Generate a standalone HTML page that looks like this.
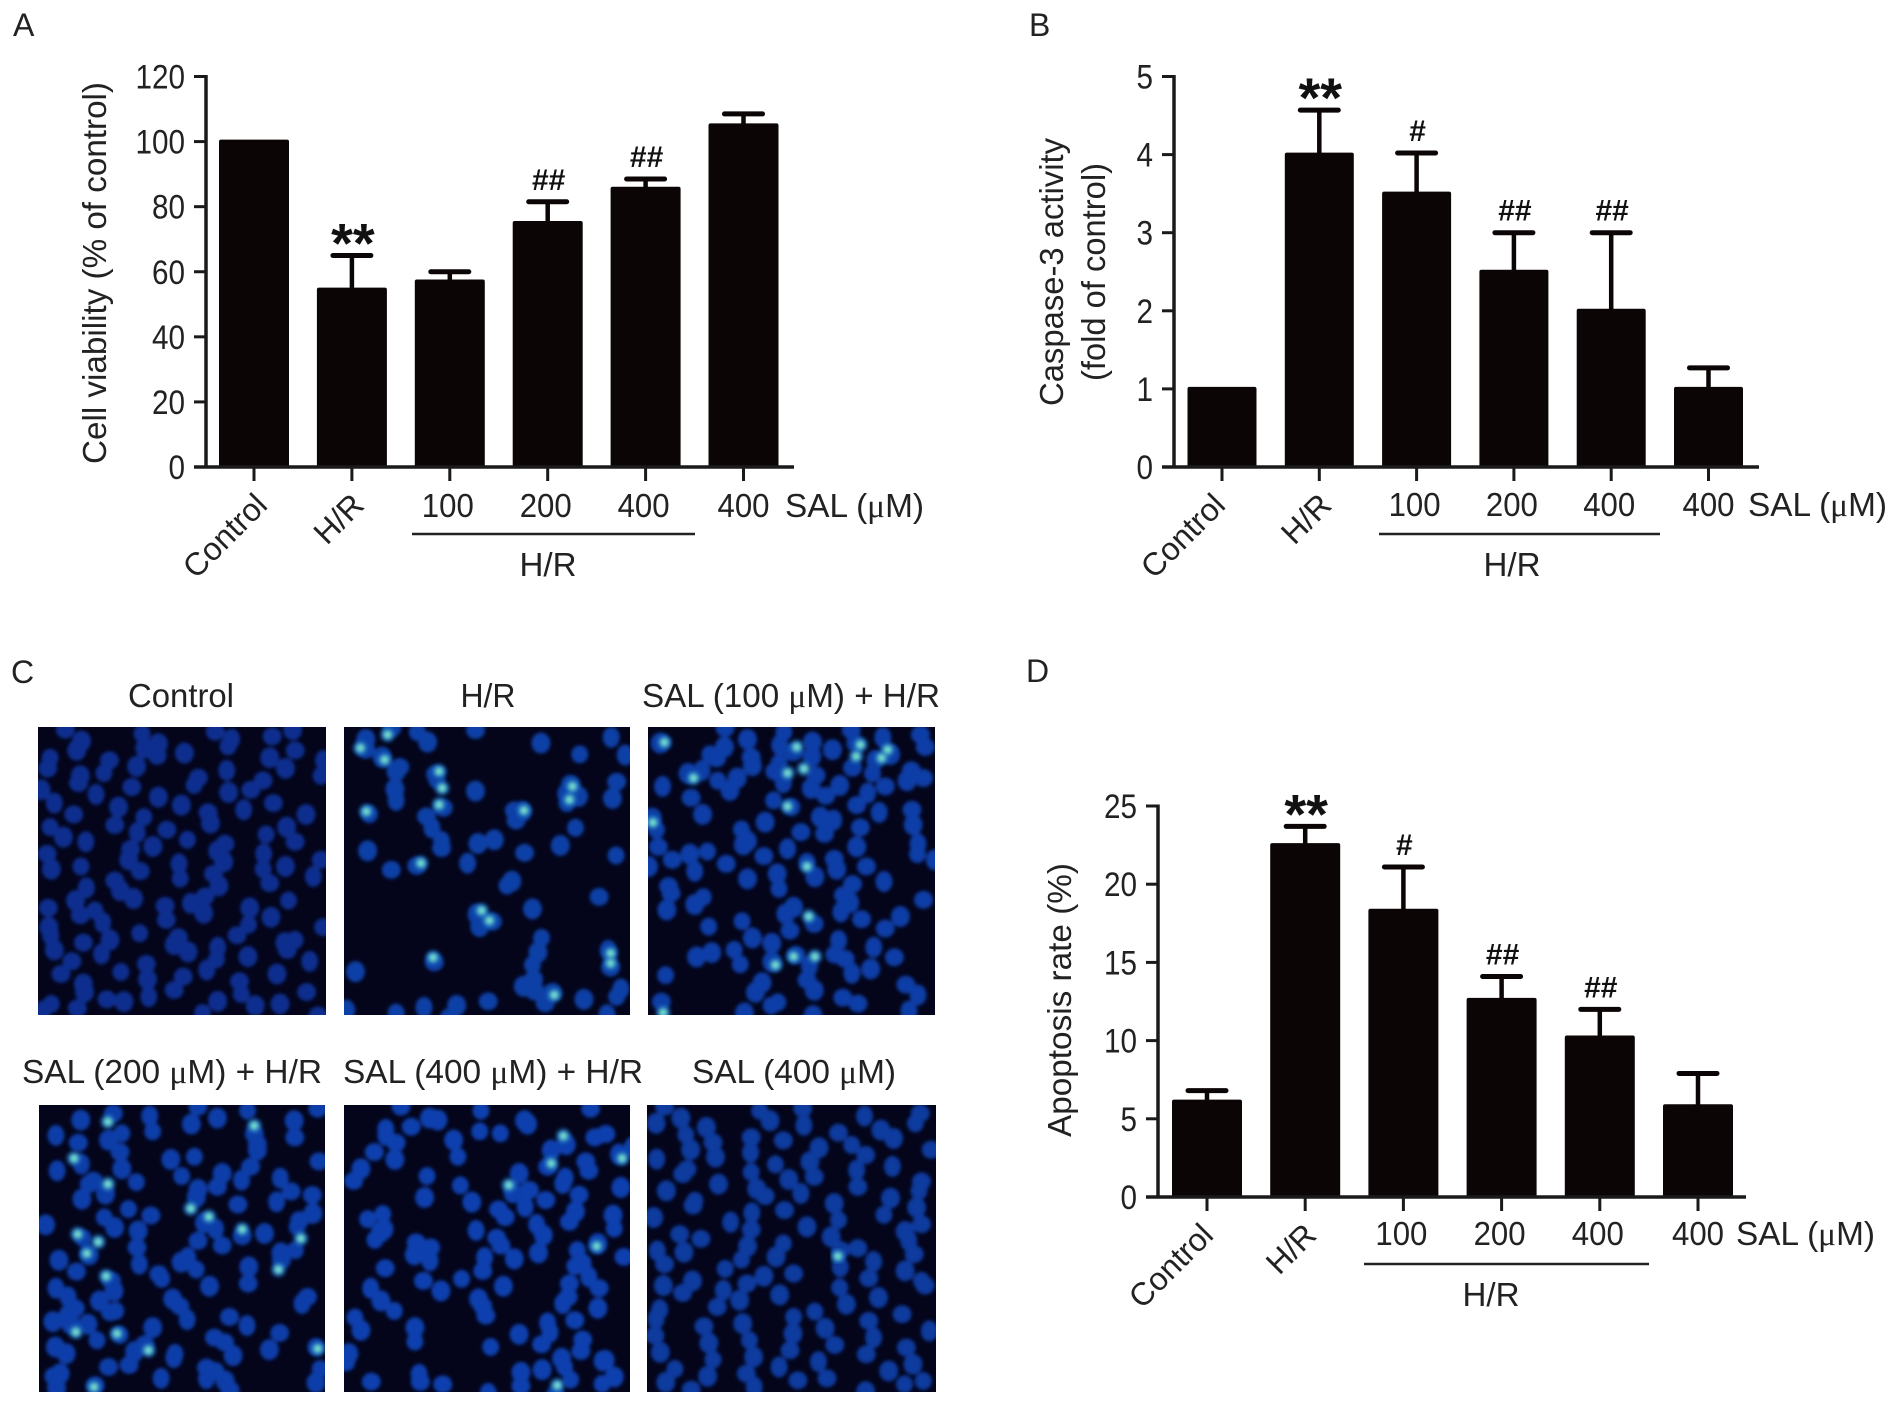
<!DOCTYPE html>
<html lang="en">
<head>
<meta charset="utf-8">
<title>Salidroside H/R figure</title>
<style>
html,body{margin:0;padding:0;background:#fff;}
svg{display:block;}
text{font-family:"Liberation Sans","DejaVu Sans",sans-serif;font-size:33px;fill:#222;}
.serif{font-family:"Liberation Serif","DejaVu Serif",serif;}
</style>
</head>
<body>
<svg id="fig" xmlns="http://www.w3.org/2000/svg" width="1900" height="1405" viewBox="0 0 1900 1405">
  <defs>
    <filter id="soft" x="-5%" y="-5%" width="110%" height="110%"><feGaussianBlur stdDeviation="1.8"/></filter>
    <filter id="glow" x="-5%" y="-5%" width="110%" height="110%"><feGaussianBlur stdDeviation="2.2"/></filter>
  </defs>

  <text x="13" y="36" style="font-size:32px">A</text>
  <text x="1029" y="36" style="font-size:32px">B</text>
  <text x="11" y="683" style="font-size:32px">C</text>
  <text x="1026" y="682" style="font-size:32px">D</text>

  <text transform="translate(106,273) rotate(-90)" text-anchor="middle" textLength="382" lengthAdjust="spacingAndGlyphs">Cell viability (% of control)</text>
  <text transform="translate(1063,272) rotate(-90)" text-anchor="middle" textLength="268" lengthAdjust="spacingAndGlyphs">Caspase-3 activity</text>
  <text transform="translate(1105,272) rotate(-90)" text-anchor="middle" textLength="218" lengthAdjust="spacingAndGlyphs">(fold of control)</text>
  <text transform="translate(1071,1000) rotate(-90)" text-anchor="middle" textLength="274" lengthAdjust="spacingAndGlyphs">Apoptosis rate (%)</text>

  <text x="181" y="707" text-anchor="middle" textLength="106" lengthAdjust="spacingAndGlyphs">Control</text>
  <text x="488" y="707" text-anchor="middle" textLength="55" lengthAdjust="spacingAndGlyphs">H/R</text>
  <text x="642" y="707" textLength="298" lengthAdjust="spacingAndGlyphs">SAL (100 <tspan class="serif">μ</tspan>M) + H/R</text>
  <text x="22" y="1083" textLength="300" lengthAdjust="spacingAndGlyphs">SAL (200 <tspan class="serif">μ</tspan>M) + H/R</text>
  <text x="343" y="1083" textLength="300" lengthAdjust="spacingAndGlyphs">SAL (400 <tspan class="serif">μ</tspan>M) + H/R</text>
  <text x="692" y="1083" textLength="204" lengthAdjust="spacingAndGlyphs">SAL (400 <tspan class="serif">μ</tspan>M)</text>

  <g id="charts"></g>
  <g id="micro"></g>
</svg>

<script>
// Chart data
const doseLabels = ["100", "200", "400", "400"];
const categoryA = ["Control", "H/R"];
const ticksA = [0, 20, 40, 60, 80, 100, 120];
const valuesA = [100, 54.5, 57, 75, 85.5, 105];
const errTopA = [100, 65, 60, 81.5, 88.5, 108.5];
const marksA = ["", "**", "", "##", "##", ""];

const ticksB = [0, 1, 2, 3, 4, 5];
const valuesB = [1, 4, 3.5, 2.5, 2, 1];
const errTopB = [1, 4.57, 4.02, 3, 3, 1.27];
const marksB = ["", "**", "#", "##", "##", ""];

const ticksD = [0, 5, 10, 15, 20, 25];
const valuesD = [6.1, 22.5, 18.3, 12.6, 10.2, 5.8];
const errTopD = [6.8, 23.7, 21.1, 14.1, 12, 7.9];
const marksD = ["", "**", "#", "##", "##", ""];

const NS = "http://www.w3.org/2000/svg";
function make(parent, tag, attrs, txt) {
  const el = document.createElementNS(NS, tag);
  for (const k in attrs) el.setAttribute(k, attrs[k]);
  if (txt !== undefined) el.textContent = txt;
  parent.appendChild(el);
  return el;
}

function drawChart(id, c, ticks, values, errTop, marks) {
  const root = document.getElementById("charts");
  const g = make(root, "g", {});
  
  
  const yScale = v => c.y0 + (c.yTop - c.y0) * v / c.max;
  const xScale = i => c.x0 + c.pitch * i;
  const ink = "#0b0506";

  values.forEach((v, i) => {
    const cx = xScale(i);
    if (errTop[i] > v) {
      const stem = make(g, "line", {x1: cx, x2: cx, y1: yScale(v), y2: yScale(errTop[i]), stroke: ink, "stroke-width": 4.5});
      
      
      const cap = make(g, "line", {x1: cx - 19, x2: cx + 19, y1: yScale(errTop[i]), y2: yScale(errTop[i]), stroke: ink, "stroke-width": 5, "stroke-linecap": "round"});
      
      
    }
    const bar = make(g, "rect", {x: cx - c.barW / 2, y: yScale(v) - 2, width: c.barW, height: c.y0 - yScale(v) + 2, fill: ink, rx: 2});
    
    
    const tick = make(g, "line", {x1: cx, x2: cx, y1: c.y0, y2: c.y0 + 14, stroke: "#1a1a1a", "stroke-width": 3});
    
    
    if (marks[i]) {
      const capY = yScale(errTop[i]);
      const stars = marks[i] === "**";
      const m = make(g, "text", {x: cx + 1, y: stars ? capY + 7 : capY - 12, "text-anchor": "middle", style: stars ? "font-size:56px;font-weight:bold;fill:#111" : "font-size:30px;font-weight:bold;fill:#111"}, marks[i]);
      
      
    }
  });

  const yAxis = make(g, "line", {x1: c.axisX, x2: c.axisX, y1: c.yTop - 1.5, y2: c.y0 + 1.5, stroke: "#1a1a1a", "stroke-width": 3.5});
  
  
  const xAxis = make(g, "line", {x1: c.axisX - 12, x2: c.xEnd, y1: c.y0, y2: c.y0, stroke: "#1a1a1a", "stroke-width": 3.5});
  
  

  ticks.forEach(t => {
    const ty = yScale(t);
    const tk = make(g, "line", {x1: c.axisX - 12, x2: c.axisX, y1: ty, y2: ty, stroke: "#1a1a1a", "stroke-width": 3});
    
    
    const lab = make(g, "text", {x: c.axisX - 21, y: ty + 12, "text-anchor": "end", style: "font-size:34px", textLength: String(t).length * 16.5, lengthAdjust: "spacingAndGlyphs"}, t);
    
    
  });

  categoryA.forEach((name, i) => {
    const bx = xScale(i) + 20 + c.catShift[i];
    const lab = make(g, "text", {transform: "translate(" + bx + "," + (c.y0 + 40) + ") rotate(-45)", "text-anchor": "end", style: "font-size:32px"}, name);
    
    
  });
  doseLabels.forEach((d, i) => {
    const lab = make(g, "text", {x: xScale(i + 2) - 2 + (i === 3 ? 2 : 0), y: c.y0 + c.numDy, "text-anchor": "middle", textLength: 52, lengthAdjust: "spacingAndGlyphs"}, d);
    
    
  });
  const sal = make(g, "text", {x: c.salX - 2, y: c.y0 + c.numDy, textLength: 139, lengthAdjust: "spacingAndGlyphs"});
  
  
  sal.appendChild(document.createTextNode("SAL ("));
  const mu = make(sal, "tspan", {class: "serif"}, "μ");
  
  
  sal.appendChild(document.createTextNode("M)"));

  const rule = make(g, "line", {x1: c.ruleX1, x2: c.ruleX2, y1: c.y0 + 67, y2: c.y0 + 67, stroke: "#222", "stroke-width": 2.5});
  
  
  const hr = make(g, "text", {x: c.groupX, y: c.y0 + 109, "text-anchor": "middle", textLength: 57, lengthAdjust: "spacingAndGlyphs"}, "H/R");
  
  
}

drawChart("a", {x0: 254, pitch: 97.9, barW: 70, y0: 467, yTop: 76.5, max: 120, axisX: 206, xEnd: 794, numDy: 50, salX: 787, ruleX1: 412, ruleX2: 695, groupX: 548, catShift: [-5, -6]}, ticksA, valuesA, errTopA, marksA);
drawChart("b", {x0: 1222, pitch: 97.3, barW: 69, y0: 467, yTop: 76.5, max: 5, axisX: 1174, xEnd: 1759, numDy: 49, salX: 1750, ruleX1: 1379, ruleX2: 1660, groupX: 1512, catShift: [-15, -6]}, ticksB, valuesB, errTopB, marksB);
drawChart("d", {x0: 1207, pitch: 98.2, barW: 70, y0: 1197, yTop: 806, max: 25, axisX: 1158, xEnd: 1746, numDy: 48, salX: 1738, ruleX1: 1364, ruleX2: 1649, groupX: 1491, catShift: [-12, -7]}, ticksD, valuesD, errTopD, marksD);

// Micrograph decoration: nuclei as [row, [columns]] in crop units
const cellsControl = [[290,[100,140,230,270,350,385,440,490]],[340,[80,130,180,230,265,300,385,440,490,525]],[400,[85,130,175,225,320,380,430,480,525]],[450,[70,120,165,215,265,320,370,420]],[510,[85,130,190,240,290,350,400,455,505]],[570,[75,110,185,235,270,350,430,480]],[620,[75,145,215,245,315,355,380,430,490]],[680,[75,140,210,235,295,345,375,430,480,525]],[730,[145,180,205,295,365,445,510]],[790,[85,120,165,215,275,305,345,410,480]],[840,[80,125,175,270,345,405,450,525]],[900,[90,135,185,230,280,300,355,400,465,490]],[950,[80,125,165,245,310,350,415,470,520]],[1010,[95,140,190,250,300,345,395,450]],[1070,[90,135,185,240,290,350,405,460,510]],[1105,[70,120,210,330,430,520]]];
const cellsHR = [[285,[640,610,685,715,780,1012]],[330,[595,900,955]],[360,[635,660,1025]],[395,[725,650]],[440,[730,780,945,925,1025,650]],[490,[940,955,725,660,845,1020]],[515,[605,865]],[550,[695,720,850]],[578,[820,950]],[625,[600,735,725,875,920,1020,780]],[670,[695,770]],[710,[650,845]],[745,[830]],[785,[885,985]],[815,[795]],[845,[808]],[880,[795,885]],[945,[895,715,1008]],[975,[1008]],[995,[580,885]],[1025,[860,890,1020]],[1070,[915,955,1025,880,810]],[1110,[700,735,760,650,580,895,1005]]];
const cellsS100 = [[285,[1190,1240,1290,1350,1400,1460,1510]],[330,[1097,1170,1200,1240,1280,1315,1370,1420,1465,1530]],[370,[1150,1190,1240,1290,1340,1400,1450,1500]],[415,[1145,1180,1220,1270,1300,1345,1390,1440,1490,1530]],[460,[1090,1150,1200,1280,1330,1370,1430,1465]],[510,[1160,1300,1360,1410,1460,1500]],[555,[1080,1215,1270,1320,1380,1420,1500]],[590,[1090,1230,1370,1510]],[635,[1090,1130,1175,1225,1265,1300,1370,1420,1510]],[680,[1080,1105,1150,1190,1290,1330,1385,1430,1535]],[725,[1110,1230,1295,1340,1410,1450]],[780,[1115,1145,1165,1310,1385,1410,1520]],[830,[1110,1220,1300,1335,1395,1420,1490]],[880,[1170,1235,1310,1380,1470]],[930,[1170,1215,1265,1385,1440,1480]],[965,[1150,1215,1280,1310,1345,1390,1440]],[1020,[1090,1265,1330,1410,1495]],[1065,[1240,1290,1340,1400,1510]],[1105,[1095,1220,1280,1340,1420,1500]]];
const cellsS200 = [[250,[320,365,405,495,520,250,178]],[290,[140,250,320,420]],[330,[85,135,175,210,420,490]],[380,[125,205,280,325,425,520]],[430,[100,150,210,295,370,405,470]],[470,[145,178,225,320,365,395,490]],[515,[130,215,315,400,455,520]],[570,[75,165,195,245,345,490,520]],[610,[128,235,325,360,400,430,497]],[660,[143,235,305,370,455,495]],[710,[95,130,230,255,305,320,420,460]],[760,[95,175,195,265,350,410]],[820,[105,130,160,200,280,300,490,515]],[860,[85,115,145,175,315,375]],[900,[125,193,255,345,415,460]],[950,[95,160,215,245,285,380,440,525]],[990,[100,220,285,345,385]],[1030,[80,105,175,275,350,375,520]],[1065,[100,155,345,380,515]]];
const cellsS400H = [[250,[655,715,790,875,970]],[290,[640,670,730,790,875,1000]],[330,[630,660,745,835,930,985,1035]],[380,[625,650,760,910,960,1027]],[430,[580,605,700,860,895,940,970]],[480,[705,760,840,880,925,965,1020]],[530,[635,770,830,865,905,950]],[575,[600,640,830,895,935,1015]],[615,[610,635,685,790,820,890,1020]],[660,[680,720,795,830,880,960,985]],[700,[640,710,790,855,945,970,1025]],[760,[615,690,735,760,835,940,965,995]],[820,[625,660,785,800,920,945,985]],[870,[590,685,795,910,945]],[920,[605,680,860,885,915,960]],[970,[580,810,920,965,990]],[1010,[580,890,935,990]],[1040,[620,690,735,860,935,1020]],[1075,[690,815,855,920,985]]];
const cellsS400 = [[250,[1090,1130,1250,1280,1320,1430,1510]],[300,[1090,1130,1170,1240,1320,1390,1450,1520]],[345,[1135,1180,1230,1300,1350,1410,1475,1530]],[395,[1090,1130,1190,1275,1340,1420,1480]],[440,[1125,1190,1240,1295,1350,1410,1530]],[490,[1095,1150,1240,1270,1320,1420,1470,1510]],[540,[1085,1140,1250,1290,1380,1450,1520]],[590,[1120,1210,1240,1325,1390,1490,1530]],[640,[1080,1160,1225,1300,1370,1420,1500]],[680,[1090,1135,1220,1290,1383,1445,1500]],[730,[1150,1195,1265,1310,1380,1440,1490,1530]],[780,[1090,1130,1185,1240,1285,1390,1450,1520]],[830,[1095,1180,1230,1340,1400,1480]],[880,[1090,1160,1230,1310,1355,1440,1530]],[930,[1090,1165,1240,1300,1385,1440,1500]],[980,[1090,1170,1250,1300,1360,1425,1510]],[1030,[1105,1175,1230,1290,1365,1460,1530]],[1070,[1095,1150,1240,1320,1420,1500]]];

const brightHR = [[640,285],[595,325],[635,360],[725,395],[730,445],[945,440],[940,480],[605,515],[725,495],[865,512],[695,670],[795,812],[808,842],[715,953],[1008,940],[1008,970],[915,1065]];
const brightS100 = [[1097,308],[1315,322],[1420,315],[1465,330],[1413,350],[1455,355],[1300,400],[1327,387],[1145,415],[1300,500],[1078,548],[1332,680],[1335,830],[1310,950],[1345,950],[1280,975],[1095,1118]];
const brightS200 = [[178,275],[420,287],[122,385],[178,462],[315,535],[345,560],[400,598],[128,612],[162,635],[143,670],[497,625],[460,718],[175,738],[125,905],[193,910],[245,960],[525,955],[155,1070]];
const brightS400H = [[930,318],[1027,385],[910,400],[840,465],[985,648],[920,1065]];
const brightS400 = [[1383,678]];
const brightControl = [];

// Small fixed offsets that break up the rows
const nudgeX = [0, 7, -6, 4, -9, 5, -3, 9, -7, 2, -4];
const nudgeY = [0, -20, 14, -8, 22, -14, 8];

function drawMicro(name, box, crop, rows, brights, cellFill) {
  const root = document.getElementById("micro");
  const mapX = x => box.x + (x - crop.x0) * box.w / (crop.x1 - crop.x0);
  const mapY = y => box.y + (y - crop.y0) * box.h / (crop.y1 - crop.y0);
  const clipId = "clip-" + name;
  const cp = make(root, "clipPath", {id: clipId});
  make(cp, "rect", {x: box.x, y: box.y, width: box.w, height: box.h});
  const g = make(root, "g", {"clip-path": "url(#" + clipId + ")"});
  
  
  make(g, "rect", {x: box.x, y: box.y, width: box.w, height: box.h, fill: "#04041a"});
  const soft = make(g, "g", {filter: "url(#soft)", fill: cellFill});
  let n = 0;
  rows.forEach(r => r[1].forEach(x => {
    n++;
    const e = make(soft, "ellipse", {cx: mapX(x + nudgeX[n % 11]), cy: mapY(r[0] + nudgeY[n % 7]), rx: n % 3 === 0 ? 8.5 : 9.5, ry: n % 2 === 0 ? 10.5 : 9});
    
    
  }));
  const halo = make(g, "g", {filter: "url(#glow)"});
  brights.forEach(b => {
    const o = make(halo, "circle", {cx: mapX(b[0]), cy: mapY(b[1]), r: 7, fill: "#1a70c0"});
    
    
    const i = make(halo, "circle", {cx: mapX(b[0]), cy: mapY(b[1]), r: 3.2, fill: "#7ff0d0"});
    
    
  });
}

drawMicro("control", {x: 38, y: 727, w: 288, h: 288}, {x0: 62, x1: 538, y0: 262, y1: 1125}, cellsControl, brightControl, "#0d2f8e");
drawMicro("hr", {x: 344, y: 727, w: 286, h: 288}, {x0: 568, x1: 1040, y0: 262, y1: 1125}, cellsHR, brightHR, "#0f3fa6");
drawMicro("sal100-hr", {x: 648, y: 727, w: 287, h: 288}, {x0: 1070, x1: 1543, y0: 262, y1: 1125}, cellsS100, brightS100, "#0e3ea6");
drawMicro("sal200-hr", {x: 39, y: 1105, w: 286, h: 287}, {x0: 64, x1: 537, y0: 225, y1: 1085}, cellsS200, brightS200, "#0e3ea8");
drawMicro("sal400-hr", {x: 344, y: 1105, w: 286, h: 287}, {x0: 568, x1: 1040, y0: 225, y1: 1085}, cellsS400H, brightS400H, "#0e3fae");
drawMicro("sal400", {x: 647, y: 1105, w: 289, h: 287}, {x0: 1068, x1: 1545, y0: 225, y1: 1085}, cellsS400, brightS400, "#0e3a9e");
</script>
</body>
</html>
